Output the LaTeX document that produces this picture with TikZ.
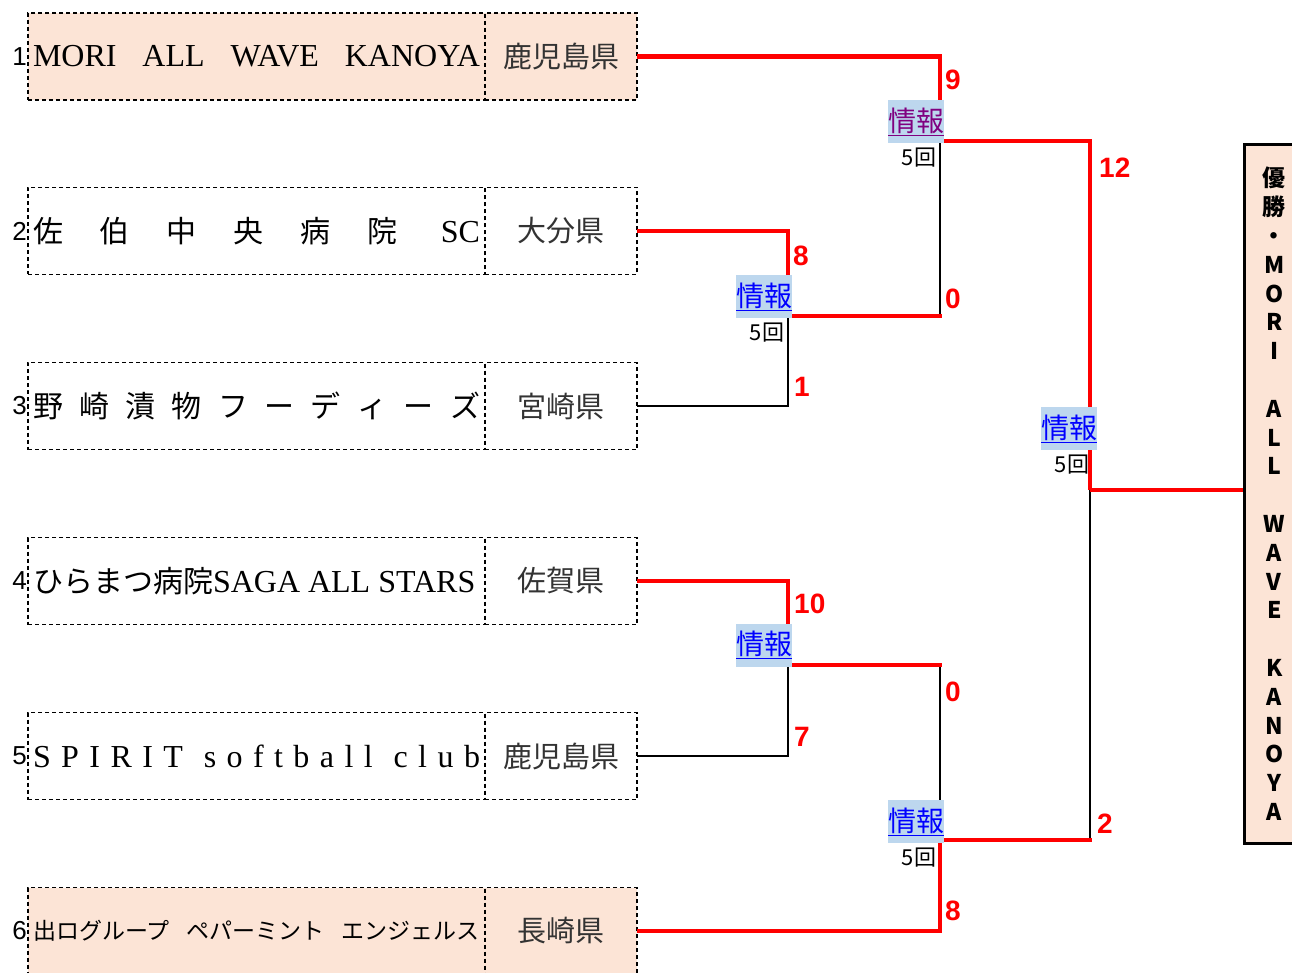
\documentclass[tikz,border=0pt]{standalone}
\usepackage{fontspec}
\setmainfont{Liberation Serif}
\newfontfamily\jpfont{Noto Sans CJK JP}
\newfontfamily\gothic{Liberation Sans}
\usetikzlibrary{positioning}
\definecolor{peach}{HTML}{FCE4D6}
\definecolor{infoblue}{HTML}{BDD7EE}
\definecolor{visited}{HTML}{800080}
\definecolor{linkblue}{HTML}{0000FF}

\begin{document}
\begin{tikzpicture}[
            x=1pt, y=-1pt,
            team/.style={
                draw, dash pattern=on 4pt off 3pt, line width=1.6pt,
                minimum width=457pt, minimum height=87pt,
                inner sep=0pt, outer sep=0pt,
                font=\fontsize{32}{32}\selectfont
            },
            pref/.style={team, minimum width=152pt, text=black!80,
                font=\jpfont\fontsize{29}{29}\selectfont},
            seed/.style={anchor=east, inner sep=1pt, font=\gothic\fontsize{26}{26}\selectfont},
            win/.style={red, line width=4.5pt},
            lose/.style={black, line width=2.8pt},
            score/.style={red, anchor=west, inner sep=0pt, font=\gothic\bfseries\fontsize{28}{28}\selectfont},
            info/.style={
                fill=infoblue, minimum width=54pt, minimum height=43pt,
                inner sep=0pt, text=linkblue,
                font=\jpfont\fontsize{28}{28}\selectfont
            },
            rounds/.style={anchor=north east, inner sep=0pt, font=\jpfont\fontsize{22}{22}\selectfont}
        ]
        \useasboundingbox (0,0) rectangle (1292,973);
        \def\namew{447pt}

        % teams
        \node[team, fill=peach] (t1) at (256.5,56.5) {\makebox[\namew][s]{MORI ALL WAVE KANOYA}};
        \node[pref, fill=peach, right=0pt of t1] (p1) {鹿児島県};
        \node[team] (t2) at (256.5,231) {\makebox[\namew][s]{{\jpfont\fontsize{30}{30}\selectfont 佐 伯 中 央 病 院} SC}};
        \node[pref, right=0pt of t2] (p2) {大分県};
        \node[team] (t3) at (256.5,406) {\makebox[\namew][s]{\jpfont\fontsize{30}{30}\selectfont 野 崎 漬 物 フ ー デ ィ ー ズ}};
        \node[pref, right=0pt of t3] (p3) {宮崎県};
        \node[team] (t4) at (256.5,581) {\makebox[\namew][l]{{\jpfont\fontsize{30}{30}\selectfont ひらまつ病院}SAGA ALL STARS}};
        \node[pref, right=0pt of t4] (p4) {佐賀県};
        \node[team] (t5) at (256.5,756) {\makebox[\namew][s]{S P I R I T \ s o f t b a l l \ c l u b}};
        \node[pref, right=0pt of t5] (p5) {鹿児島県};
        \node[team, fill=peach] (t6) at (256.5,931) {\makebox[\namew][s]{\jpfont\fontsize{23}{23}\selectfont 出ログループ ペパーミント エンジェルス}};
        \node[pref, fill=peach, right=0pt of t6] (p6) {長崎県};

        \foreach \k in {1,...,6}
            \node[seed] (seed\k) at (t\k.west) {\k};

        % champion
        \node[draw, line width=2.6pt, fill=peach, anchor=north west,
            minimum width=60pt, minimum height=699pt, inner sep=0pt, align=center,
            font=\jpfont\bfseries\fontsize{23}{28.8}\selectfont] (champ) at (1243,143)
            {優\\勝\\・\\M\\O\\R\\I\\~\\A\\L\\L\\~\\W\\A\\V\\E\\~\\K\\A\\N\\O\\Y\\A};

        % joints of the bracket
        \coordinate (m1) at (788,316);
        \coordinate (m2) at (788,665);
        \coordinate (sf1) at (940,141);
        \coordinate (sf2) at (940,840);
        \coordinate (fin) at (1090,490);

        \draw[lose] (p3.east) -| (m1);
        \draw[lose] (p5.east) -| (m2);
        \draw[lose] (sf1) -- (sf1 |- m1);
        \draw[lose] (sf2 |- m2) -- (sf2);
        \draw[lose] (fin) -- (fin |- sf2);

        \draw[win] (p1.east) -| (sf1);
        \draw[win] (p2.east) -| (m1);
        \draw[win, line cap=rect] (m1) -- (sf1 |- m1);
        \draw[win] (p4.east) -| (m2);
        \draw[win, line cap=rect] (m2) -- (sf2 |- m2);
        \draw[win] (p6.east) -| (sf2);
        \draw[win] (sf1) -| (fin);
        \draw[win, line cap=rect] (sf2) -- (fin |- sf2);
        \draw[win] (fin) -- (fin -| champ.west);

        % game info
        \node[info, text=visited] (i1) at (916,121.5) {\underline{情報}};
        \node[info] (i2) at (764,296.5) {\underline{情報}};
        \node[info] (i3) at (764,645) {\underline{情報}};
        \node[info] (i4) at (916,821.5) {\underline{情報}};
        \node[info] (i5) at (1069,428.5) {\underline{情報}};
        \node[rounds] (r1) at ([xshift=-8pt, yshift=-5pt]i1.south east) {5回};
        \node[rounds] (r2) at ([xshift=-8pt, yshift=-5pt]i2.south east) {5回};
        \node[rounds] (r4) at ([xshift=-8pt, yshift=-5pt]i4.south east) {5回};
        \node[rounds] (r5) at ([xshift=-8pt, yshift=-5pt]i5.south east) {5回};

        % scores
        \foreach \x/\y/\s [count=\k] in {945/80/9, 1099/168/12, 793/256/8, 945/299/0, 794/387/1,
                794/604/10, 945/692/0, 794/737/7, 1097/824/2, 945/911/8}
            \node[score] (score\k) at (\x,\y) {\s};
    \end{tikzpicture}
\end{document}
